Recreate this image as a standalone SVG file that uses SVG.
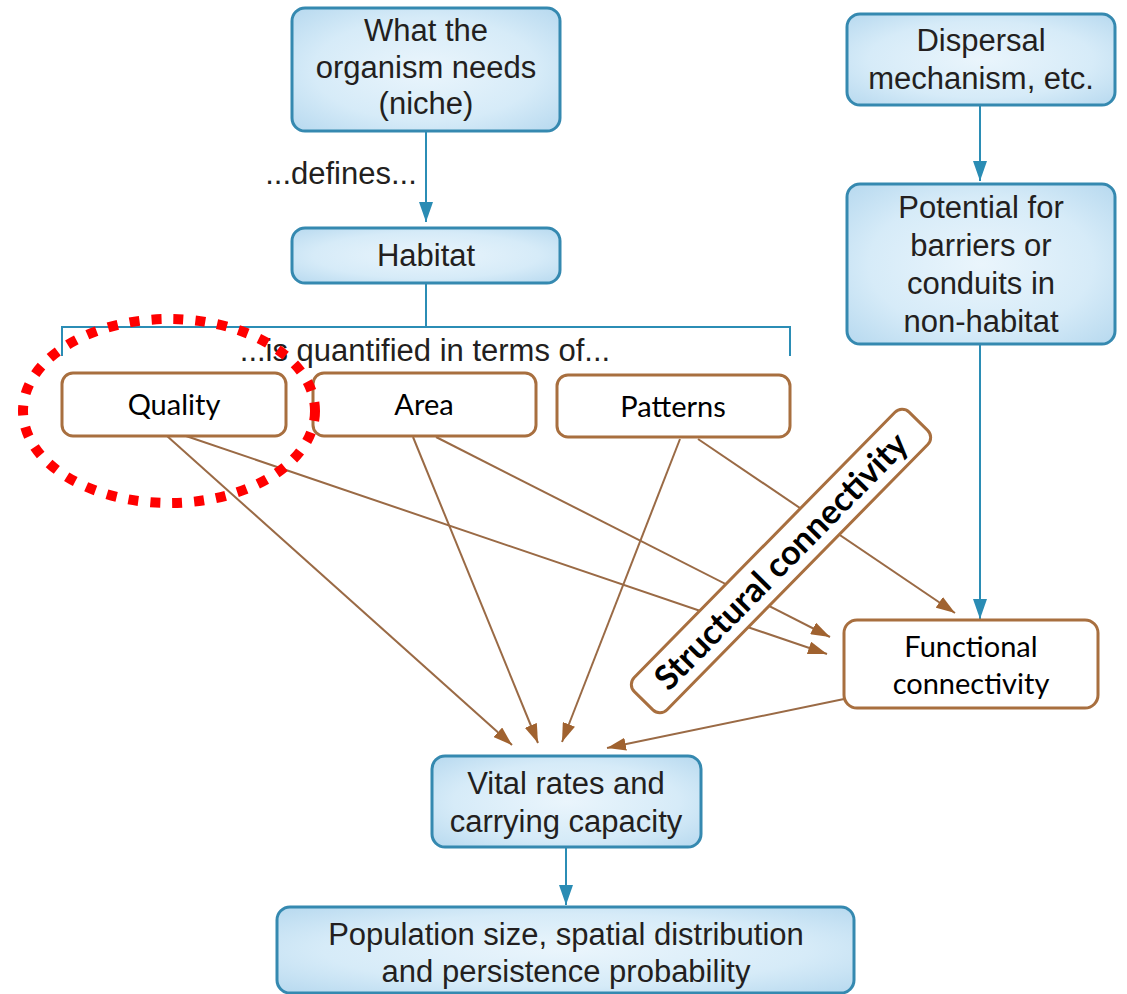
<svg xmlns="http://www.w3.org/2000/svg" width="1127" height="994" viewBox="0 0 1127 994">
  <style>
    .bbox { fill: url(#blueFill); stroke: #3589b0; stroke-width: 3; }
    .btxt { font-family: "Liberation Sans", Arial, sans-serif; font-size: 31px; fill: #231f20; text-anchor: middle; }
    .obox { fill: #ffffff; stroke: #a86f3f; stroke-width: 3; }
    .otxt { font-family: Lato, "Open Sans", sans-serif; font-size: 29px; fill: #000000; text-anchor: middle; }
    .blink { fill: none; stroke: #2b8db5; stroke-width: 2; }
    .olink { fill: none; stroke: #9a6a45; stroke-width: 2; }
  </style>
  <defs>
    <radialGradient id="blueFill" cx="0.5" cy="0.5" r="0.7">
      <stop offset="0" stop-color="#eaf5fc"/>
      <stop offset="0.6" stop-color="#d6ebf8"/>
      <stop offset="1" stop-color="#b7d9ef"/>
    </radialGradient>
    <marker id="arrowBlue" markerUnits="userSpaceOnUse" markerWidth="20" markerHeight="14" refX="20" refY="7" orient="auto">
      <path d="M0,0 L20,7 L0,14 z" fill="#2a8cb4"/>
    </marker>
    <marker id="arrowBrown" markerUnits="userSpaceOnUse" markerWidth="19" markerHeight="13" refX="19" refY="6.5" orient="auto">
      <path d="M0,0 L19,6.5 L0,13 z" fill="#a0622f"/>
    </marker>
  </defs>

  <rect width="1127" height="994" fill="#ffffff"/>

  <!-- connectors -->
  <g id="connectors">
    <line class="blink" x1="426" y1="131" x2="426" y2="222" marker-end="url(#arrowBlue)"/>
    <line class="blink" x1="426" y1="283" x2="426" y2="327"/>
    <path class="blink" d="M62,356 V327 H790 V356"/>
    <line class="blink" x1="980" y1="105" x2="980" y2="181" marker-end="url(#arrowBlue)"/>
    <line class="blink" x1="980" y1="344" x2="980" y2="619" marker-end="url(#arrowBlue)"/>
    <line class="blink" x1="566" y1="847" x2="566" y2="905" marker-end="url(#arrowBlue)"/>

    <line class="olink" x1="167" y1="436" x2="512" y2="745" marker-end="url(#arrowBrown)"/>
    <line class="olink" x1="186" y1="436" x2="827" y2="654" marker-end="url(#arrowBrown)"/>
    <line class="olink" x1="413" y1="437" x2="538" y2="743" marker-end="url(#arrowBrown)"/>
    <line class="olink" x1="436" y1="437" x2="830" y2="637" marker-end="url(#arrowBrown)"/>
    <line class="olink" x1="680" y1="439" x2="562" y2="742" marker-end="url(#arrowBrown)"/>
    <line class="olink" x1="698" y1="439" x2="955" y2="613" marker-end="url(#arrowBrown)"/>
    <line class="olink" x1="844" y1="699" x2="607" y2="748" marker-end="url(#arrowBrown)"/>
  </g>

  <!-- connector labels -->
  <text id="label-defines" class="btxt" x="341" y="184">...defines...</text>
  <text id="label-quantified" class="btxt" x="425" y="361">...is quantified in terms of...</text>

  <!-- blue nodes -->
  <g id="node-niche">
    <rect class="bbox" x="292" y="8" width="268" height="123" rx="13"/>
    <text class="btxt" x="426" y="41">What the</text>
    <text class="btxt" x="426" y="78">organism needs</text>
    <text class="btxt" x="426" y="114">(niche)</text>
  </g>
  <g id="node-habitat">
    <rect class="bbox" x="292" y="228" width="268" height="55" rx="13"/>
    <text class="btxt" x="426" y="266">Habitat</text>
  </g>
  <g id="node-dispersal">
    <rect class="bbox" x="847" y="14" width="268" height="91" rx="13"/>
    <text class="btxt" x="981" y="51">Dispersal</text>
    <text class="btxt" x="981" y="89">mechanism, etc.</text>
  </g>
  <g id="node-potential">
    <rect class="bbox" x="847" y="184" width="268" height="160" rx="13"/>
    <text class="btxt" x="981" y="218">Potential for</text>
    <text class="btxt" x="981" y="256">barriers or</text>
    <text class="btxt" x="981" y="294">conduits in</text>
    <text class="btxt" x="981" y="332">non-habitat</text>
  </g>
  <g id="node-vital">
    <rect class="bbox" x="432" y="756" width="269" height="91" rx="13"/>
    <text class="btxt" x="566" y="794">Vital rates and</text>
    <text class="btxt" x="566" y="832">carrying capacity</text>
  </g>
  <g id="node-population">
    <rect class="bbox" x="277" y="907" width="577" height="86" rx="13"/>
    <text class="btxt" x="566" y="945">Population size, spatial distribution</text>
    <text class="btxt" x="566" y="982">and persistence probability</text>
  </g>

  <!-- brown nodes -->
  <g id="node-quality">
    <rect class="obox" x="62" y="373" width="224" height="63" rx="11"/>
    <text class="otxt" x="174" y="415">Quality</text>
  </g>
  <g id="node-area">
    <rect class="obox" x="313" y="373" width="223" height="63" rx="11"/>
    <text class="otxt" x="424" y="415">Area</text>
  </g>
  <g id="node-patterns">
    <rect class="obox" x="557" y="375" width="233" height="62" rx="11"/>
    <text class="otxt" x="673" y="417">Patterns</text>
  </g>
  <g id="node-functional">
    <rect class="obox" x="844" y="620" width="254" height="88" rx="13"/>
    <text class="otxt" x="971" y="657">Functional</text>
    <text class="otxt" x="971" y="694">connectivity</text>
  </g>

  <!-- tilted label box -->
  <g id="node-structural" transform="translate(781 561) rotate(-45.5)">
    <rect class="obox" x="-196" y="-23" width="392" height="46" rx="10"/>
    <text x="0" y="12" text-anchor="middle" font-family="Lato, 'Open Sans', sans-serif" font-weight="700" font-size="34" fill="#000000">Structural connectivity</text>
  </g>

  <!-- highlight ring -->
  <ellipse id="highlight" cx="169" cy="411" rx="146" ry="92" fill="none" stroke="#ff0000" stroke-width="10" stroke-dasharray="10 12"/>
</svg>
